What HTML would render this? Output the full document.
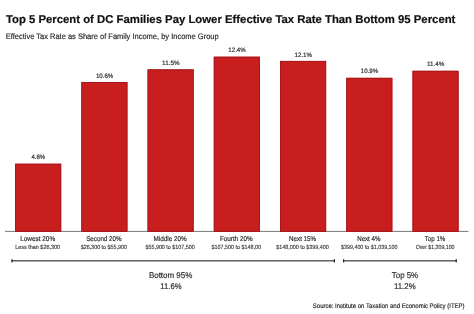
<!DOCTYPE html><html><head><meta charset="utf-8"><style>html,body{margin:0;padding:0;background:#fff;}svg{display:block;will-change:transform;}text{font-family:"Liberation Sans",sans-serif;text-rendering:geometricPrecision;}</style></head><body>
<svg width="474" height="314" viewBox="0 0 474 314">
<rect width="474" height="314" fill="#fff"/>
<text x="5.9" y="23.4" font-size="11.4" font-weight="bold" fill="#111" stroke="#111" stroke-width="0.2" textLength="449.5" lengthAdjust="spacingAndGlyphs">Top 5 Percent of DC Families Pay Lower Effective Tax Rate Than Bottom 95 Percent</text>
<g fill="#2a2a2a" stroke="#2a2a2a" stroke-width="0.18">
<text x="5.7" y="38.8" font-size="8" textLength="213" lengthAdjust="spacingAndGlyphs">Effective Tax Rate as Share of Family Income, by Income Group</text>
<text x="38.35" y="159.32" font-size="6.3" text-anchor="middle" textLength="13.7" lengthAdjust="spacingAndGlyphs">4.8%</text>
<text x="37.65" y="240.9" font-size="7" text-anchor="middle" textLength="35.0" lengthAdjust="spacingAndGlyphs">Lowest 20%</text>
<text x="37.65" y="248.8" font-size="6.0" stroke-width="0.1" text-anchor="middle" textLength="45.0" lengthAdjust="spacingAndGlyphs">Less than $26,300</text>
<text x="104.58" y="77.65" font-size="6.3" text-anchor="middle" textLength="17.4" lengthAdjust="spacingAndGlyphs">10.6%</text>
<text x="103.88" y="240.9" font-size="7" text-anchor="middle" textLength="35.5" lengthAdjust="spacingAndGlyphs">Second 20%</text>
<text x="103.88" y="248.8" font-size="6.0" stroke-width="0.1" text-anchor="middle" textLength="46.5" lengthAdjust="spacingAndGlyphs">$26,300 to $55,900</text>
<text x="170.81" y="64.98" font-size="6.3" text-anchor="middle" textLength="17.4" lengthAdjust="spacingAndGlyphs">11.5%</text>
<text x="170.11" y="240.9" font-size="7" text-anchor="middle" textLength="33.3" lengthAdjust="spacingAndGlyphs">Middle 20%</text>
<text x="170.11" y="248.8" font-size="6.0" stroke-width="0.1" text-anchor="middle" textLength="49.4" lengthAdjust="spacingAndGlyphs">$55,900 to $107,500</text>
<text x="237.04" y="52.31" font-size="6.3" text-anchor="middle" textLength="17.4" lengthAdjust="spacingAndGlyphs">12.4%</text>
<text x="236.34" y="240.9" font-size="7" text-anchor="middle" textLength="32.8" lengthAdjust="spacingAndGlyphs">Fourth 20%</text>
<text x="236.34" y="248.8" font-size="6.0" stroke-width="0.1" text-anchor="middle" textLength="49.6" lengthAdjust="spacingAndGlyphs">$107,500 to $148,00</text>
<text x="303.27" y="56.53" font-size="6.3" text-anchor="middle" textLength="17.4" lengthAdjust="spacingAndGlyphs">12.1%</text>
<text x="302.57" y="240.9" font-size="7" text-anchor="middle" textLength="27.0" lengthAdjust="spacingAndGlyphs">Next 15%</text>
<text x="302.57" y="248.8" font-size="6.0" stroke-width="0.1" text-anchor="middle" textLength="52.6" lengthAdjust="spacingAndGlyphs">$148,000 to $399,400</text>
<text x="369.50" y="73.43" font-size="6.3" text-anchor="middle" textLength="17.4" lengthAdjust="spacingAndGlyphs">10.9%</text>
<text x="368.80" y="240.9" font-size="7" text-anchor="middle" textLength="23.1" lengthAdjust="spacingAndGlyphs">Next 4%</text>
<text x="369.30" y="248.8" font-size="6.0" stroke-width="0.1" text-anchor="middle" textLength="56.5" lengthAdjust="spacingAndGlyphs">$399,400 to $1,039,100</text>
<text x="435.73" y="66.39" font-size="6.3" text-anchor="middle" textLength="17.4" lengthAdjust="spacingAndGlyphs">11.4%</text>
<text x="435.03" y="240.9" font-size="7" text-anchor="middle" textLength="20.6" lengthAdjust="spacingAndGlyphs">Top 1%</text>
<text x="435.03" y="248.8" font-size="6.0" stroke-width="0.1" text-anchor="middle" textLength="38.8" lengthAdjust="spacingAndGlyphs">Over $1,309,100</text>
<text x="170.6" y="277.9" font-size="8.3" text-anchor="middle" textLength="43.4" lengthAdjust="spacingAndGlyphs">Bottom 95%</text>
<text x="170.9" y="289.2" font-size="8.3" text-anchor="middle" textLength="21.2" lengthAdjust="spacingAndGlyphs">11.6%</text>
<text x="405.0" y="277.9" font-size="8.3" text-anchor="middle" textLength="26.3" lengthAdjust="spacingAndGlyphs">Top 5%</text>
<text x="404.8" y="289.2" font-size="8.3" text-anchor="middle" textLength="21.6" lengthAdjust="spacingAndGlyphs">11.2%</text>
<text x="312.8" y="307.8" font-size="6.6" textLength="151.8" lengthAdjust="spacingAndGlyphs">Source: Institute on Taxation and Economic Policy (ITEP)</text>
</g>
<rect x="5" y="230.9" width="463.5" height="1" fill="#7a7a7a"/>
<rect x="15.10" y="163.72" width="46.1" height="68.08" fill="#C81E1E" stroke="none"/>
<rect x="15.55" y="164.17" width="45.20" height="67.18" fill="none" stroke="#A3151B" stroke-width="0.9"/>
<rect x="81.33" y="82.05" width="46.1" height="149.75" fill="#C81E1E" stroke="none"/>
<rect x="81.78" y="82.50" width="45.20" height="148.85" fill="none" stroke="#A3151B" stroke-width="0.9"/>
<rect x="147.56" y="69.38" width="46.1" height="162.42" fill="#C81E1E" stroke="none"/>
<rect x="148.01" y="69.83" width="45.20" height="161.52" fill="none" stroke="#A3151B" stroke-width="0.9"/>
<rect x="213.79" y="56.71" width="46.1" height="175.09" fill="#C81E1E" stroke="none"/>
<rect x="214.24" y="57.16" width="45.20" height="174.19" fill="none" stroke="#A3151B" stroke-width="0.9"/>
<rect x="280.02" y="60.93" width="46.1" height="170.87" fill="#C81E1E" stroke="none"/>
<rect x="280.47" y="61.38" width="45.20" height="169.97" fill="none" stroke="#A3151B" stroke-width="0.9"/>
<rect x="346.25" y="77.83" width="46.1" height="153.97" fill="#C81E1E" stroke="none"/>
<rect x="346.70" y="78.28" width="45.20" height="153.07" fill="none" stroke="#A3151B" stroke-width="0.9"/>
<rect x="412.48" y="70.79" width="46.1" height="161.01" fill="#C81E1E" stroke="none"/>
<rect x="412.93" y="71.24" width="45.20" height="160.11" fill="none" stroke="#A3151B" stroke-width="0.9"/>
<rect x="11.40" y="260.1" width="323.40" height="1.4" fill="#555"/>
<rect x="11.40" y="259.2" width="1.2" height="3.2" fill="#222"/>
<rect x="333.80" y="259.2" width="1.2" height="3.2" fill="#222"/>
<rect x="343.00" y="260.1" width="113.60" height="1.4" fill="#555"/>
<rect x="343.00" y="259.2" width="1.2" height="3.2" fill="#222"/>
<rect x="455.60" y="259.2" width="1.2" height="3.2" fill="#222"/>
</svg></body></html>
